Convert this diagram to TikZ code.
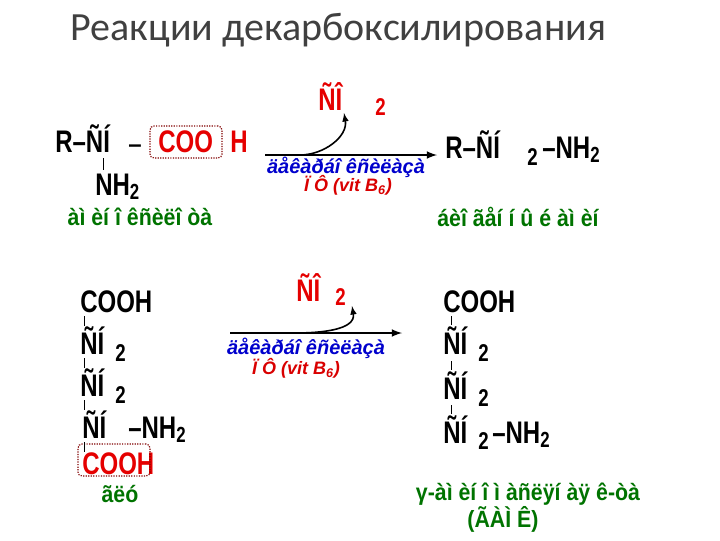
\documentclass[tikz,border=0pt]{standalone}
\usepackage{fontspec}
\usepackage{graphicx}
\setmainfont{Liberation Sans}
\newfontfamily\titlefont{Carlito}
\newcommand\tallt[1]{\scalebox{1}[1.3]{#1}}
\newcommand\tallg[1]{\scalebox{1}[1.1]{#1}}
\begin{document}
\begin{tikzpicture}[x=0.75pt,y=-0.75pt,
  chem/.style={font=\fontsize{18}{20}\selectfont\bfseries,inner sep=0pt,anchor=base west},
  sub/.style={font=\fontsize{14}{16}\selectfont\bfseries,inner sep=0pt,anchor=base west},
  grn/.style={font=\fontsize{16}{19}\selectfont\bfseries,text=green!45!black,inner sep=0pt},
  enz/.style={font=\fontsize{15}{17}\selectfont\bfseries\itshape,text=blue!80!black,inner sep=0pt},
  cof/.style={font=\fontsize{13.5}{15}\selectfont\bfseries\itshape,text=red!85!black,inner sep=0pt},
  bond/.style={line width=0.6pt},
  dotbox/.style={draw=red!50!black,densely dotted,line width=0.9pt,rounded corners=3pt},
  rx/.style={line width=1.6pt,-latex}]
\useasboundingbox (0,0) rectangle (720,540);
\node[font=\titlefont\fontsize{30}{34}\selectfont,text=black!75,anchor=west] (title) at (66,30) {Реакции декарбоксилирования};
% top reaction
\node[chem] (r1) at (55,152) {\tallt{R–ÑÍ}};
\node[chem] (d1) at (128,152) {–};
\node[chem,text=red!90!black] (coo1) at (158,152) {\tallt{COO}};
\node[chem,text=red!90!black] (h1) at (230,152) {\tallt{H}};
\node[dotbox,minimum width=72pt*0.75,minimum height=32pt*0.75] (box1) at (186,142) {};
\node[chem] (nh1) at (95,195) {\tallt{NH\textsubscript{2}}};
\draw[bond] (103,158) -- (103,170);
\node[grn] (l1) at (140,217) {\tallg{àì èí î êñèëî òà}};
\coordinate (a1s) at (265,155); \coordinate (a1e) at (437,155);
\draw[rx] (a1s) -- (a1e);
\node[chem,text=red!90!black] (co2a) at (318,110) {\tallt{ÑÎ}};
\node[sub,text=red!90!black] (co2as) at (375,115) {\tallt{2}};
\draw[line width=1.2pt,-latex] (300,155) to[out=0,in=-80] (344,113);
\node[enz] (e1) at (346,167) {äåêàðáî êñèëàçà};
\node[cof] (c1) at (348,185) {Ï Ô (vit B\textsubscript{6})};
\node[chem] (p1) at (445,158) {\tallt{R–ÑÍ}};
\node[sub] (p1s) at (527,165) {\tallt{2}};
\node[chem] (p1n) at (542,158) {\tallt{–NH\textsubscript{2}}};
\node[grn] (l2) at (518,217) {\tallg{áèî ãåí í û é àì èí}};
% bottom reaction
\node[chem] (b1) at (80,312) {\tallt{COOH}};
\node[chem] (b2) at (80,354) {\tallt{ÑÍ}}; \node[sub] (b2s) at (115,361) {\tallt{2}};
\node[chem] (b3) at (80,396) {\tallt{ÑÍ}}; \node[sub] (b3s) at (115,403) {\tallt{2}};
\node[chem] (b4) at (82,438) {\tallt{ÑÍ}}; \node[chem] (b4n) at (128,438) {\tallt{–NH\textsubscript{2}}};
\node[chem,text=red!90!black] (b5) at (82,474) {\tallt{COOH}};
\node[dotbox,minimum width=72pt*0.75,minimum height=32pt*0.75] (box2) at (114,460) {};
\foreach \y in {316,358,400,442}{\draw[bond] (84,\y) -- (84,\y+10);}
\node[grn] (l3) at (120,494) {\tallg{ãëó}};
\coordinate (a2s) at (230,333); \coordinate (a2e) at (402,333);
\draw[rx] (a2s) -- (a2e);
\node[chem,text=red!90!black] (co2b) at (296,301) {\tallt{ÑÎ}};
\node[sub,text=red!90!black] (co2bs) at (335,305) {\tallt{2}};
\draw[line width=1.2pt,-latex] (295,333) to[out=0,in=-80] (352,306);
\node[enz] (e2) at (306,348) {äåêàðáî êñèëàçà};
\node[cof] (c2) at (296,368) {Ï Ô (vit B\textsubscript{6})};
\node[chem] (q1) at (443,312) {\tallt{COOH}};
\node[chem] (q2) at (443,354) {\tallt{ÑÍ}}; \node[sub] (q2s) at (478,361) {\tallt{2}};
\node[chem] (q3) at (443,399) {\tallt{ÑÍ}}; \node[sub] (q3s) at (478,406) {\tallt{2}};
\node[chem] (q4) at (443,443) {\tallt{ÑÍ}}; \node[sub] (q4s) at (478,449) {\tallt{2}};
\node[chem] (q4n) at (492,443) {\tallt{–NH\textsubscript{2}}};
\foreach \y in {316,361,405}{\draw[bond] (451,\y) -- (451,\y+9);}
\node[grn] (l4) at (528,494) {\tallg{γ-àì èí î ì àñëÿí àÿ ê-òà}};
\node[grn] (l5) at (503,519) {\tallg{(ÃÀÌ Ê)}};
\end{tikzpicture}
\end{document}
